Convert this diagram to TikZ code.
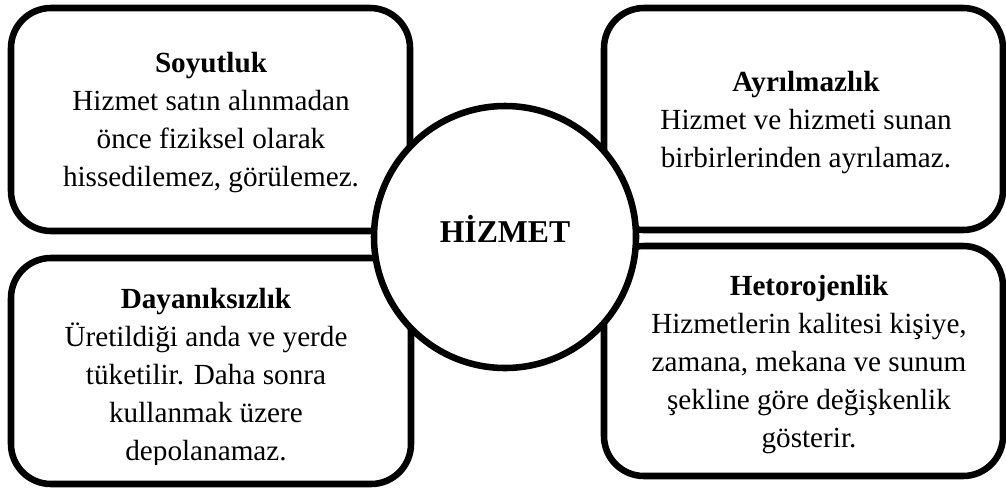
\documentclass[tikz,border=0pt]{standalone}
\usepackage{fontspec}
\setmainfont{Liberation Serif}

\begin{document}
\begin{tikzpicture}[
        x=0.75pt, y=-0.75pt,
        card/.style={
            rectangle,
            draw,
            line width=4.9pt,
            rounded corners=30pt,
            inner sep=0pt,
            fill=white
        },
        card text/.style={
            anchor=north,
            align=center,
            inner sep=0pt,
            font=\fontsize{21.9pt}{28.5pt}\selectfont
        },
        hub/.style={
            circle,
            draw,
            line width=4.9pt,
            fill=white,
            inner sep=0pt,
            minimum size=196.5pt
        },
        hub text/.style={
            anchor=base,
            inner sep=0pt,
            font=\fontsize{23.8pt}{28pt}\selectfont\bfseries
        }
    ]
    \useasboundingbox (0,0) rectangle (1006,490);

    % kutular
    \foreach \name/\x/\y/\w/\h in {soyutbox/210.5/119.5/299.25/167.25,
                                   ayrilbox/803.5/119/299.25/166.5,
                                   dayanbox/211/371/300/169.5,
                                   heterobox/803.5/361/299.25/172.5} {
        \node[card, minimum width=\w pt, minimum height=\h pt] (\name) at (\x,\y) {};
    }

    % metinler
    \node[card text] (soyut) at (211,52) {\textbf{Soyutluk}\\Hizmet satın alınmadan\\önce fiziksel olarak\\hissedilemez, görülemez.};
    \node[card text] (ayril) at (806,71) {\textbf{Ayrılmazlık}\\Hizmet ve hizmeti sunan\\birbirlerinden ayrılamaz.};
    \begin{scope}
        \clip (0,250) rectangle (500,464);
        \node[card text] (dayan) at (206,288) {\textbf{Dayanıksızlık}\\Üretildiği anda ve yerde\\tüketilir. Daha sonra\\kullanmak üzere\\depolanamaz.};
    \end{scope}
    \begin{scope}
        \clip (500,250) rectangle (1006,453);
        \node[card text] (hetero) at (809,275) {\textbf{Hetorojenlik}\\Hizmetlerin kalitesi kişiye,\\zamana, mekana ve sunum\\şekline göre değişkenlik\\gösterir.};
    \end{scope}

    % merkez
    \node[hub] (hizmet) at (505,237) {};
    \node[hub text] (hizmetyazi) at (505,242) {HİZMET};

\end{tikzpicture}
\end{document}
